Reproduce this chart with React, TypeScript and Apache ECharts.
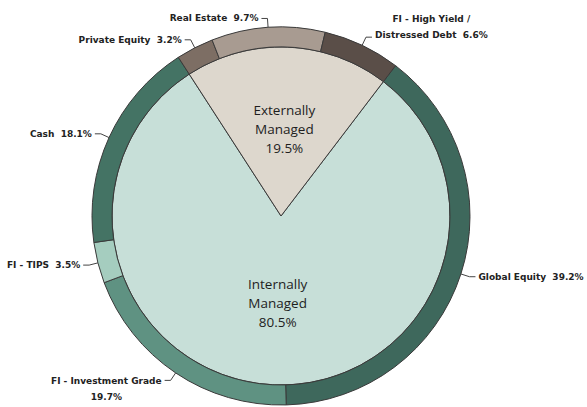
import React, { useEffect, useRef } from "react";
import * as echarts from "echarts";

const outerNames = [
  "Global Equity",
  "FI - Investment Grade",
  "FI - TIPS",
  "Cash",
  "Private Equity",
  "Real Estate",
  "FI - High Yield / Distressed Debt",
];
const outerValues = [39.2, 19.7, 3.5, 18.1, 3.2, 9.7, 6.6];
const outerColors = ["#3e685c", "#5f9282", "#a5cdbf", "#447364", "#7d6e64", "#a89b91", "#5a4e48"];

const innerNames = ["Internally Managed", "Externally Managed"];
const innerValues = [80.5, 19.5];
const innerColors = ["#c7dfd8", "#ddd7cd"];

const labelFont = "'DejaVu Sans', sans-serif";
const centerFont = "'Open Sans', 'DejaVu Sans', sans-serif";

export default function App() {
  const ref = useRef<HTMLDivElement>(null);
  useEffect(() => {
    if (!ref.current) return;
    const chart = echarts.init(ref.current, undefined, { renderer: "svg" });
    const richC = {
      c: {
        align: "center",
        fontFamily: labelFont,
        fontSize: 9,
        fontWeight: "bold",
        color: "#222",
        lineHeight: 16,
      },
    };
    const outerData = outerNames.map((name, i) => {
      const item: any = { name, value: outerValues[i], itemStyle: { color: outerColors[i] } };
      if (name === "FI - Investment Grade") item.label = { padding: [18, 0, 0, 0] };
      if (name.startsWith("FI - High Yield")) item.label = { padding: [0, 0, 20, 0] };
      return item;
    });
    const innerData = innerNames.map((name, i) => ({
      name,
      value: innerValues[i],
      itemStyle: { color: innerColors[i] },
    }));
    chart.setOption({
      animation: false,
      series: [
        {
          type: "pie",
          center: [281, 216],
          radius: [0, 169],
          startAngle: 52.7,
          silent: true,
          itemStyle: { borderColor: "#3a3a3a", borderWidth: 1 },
          label: {
            position: "inside",
            fontFamily: centerFont,
            fontSize: 13.5,
            color: "#1e1e1e",
            lineHeight: 19,
            formatter: (p: any) => p.name.replace(" ", "\n") + "\n" + p.value.toFixed(1) + "%",
          },
          labelLine: { show: false },
          data: innerData,
        },
        {
          type: "pie",
          center: [281, 216],
          radius: [169, 189],
          startAngle: 52.7,
          silent: true,
          avoidLabelOverlap: false,
          itemStyle: { borderColor: "#3a3a3a", borderWidth: 1 },
          label: {
            position: "outside",
            distanceToLabelLine: 3,
            formatter: (p: any) => {
              const v = p.value.toFixed(1) + "%";
              if (p.name === "FI - Investment Grade") return `{c|${p.name}}\n{c|${v}}`;
              if (p.name.startsWith("FI - High Yield")) {
                const parts = p.name.split(" / ");
                return `{c|${parts[0]} /}\n{c|${parts[1]}  ${v}}`;
              }
              return `{c|${p.name}  ${v}}`;
            },
            rich: richC,
          },
          labelLine: {
            show: true,
            length: 9,
            length2: 6,
            lineStyle: { color: "#444", width: 1 },
          },
          data: outerData,
        },
      ],
    });
    return () => chart.dispose();
  }, []);
  return (
    <div
      ref={ref}
      style={{ position: "absolute", left: 0, top: 0, width: 587, height: 407, background: "#fff" }}
    />
  );
}
